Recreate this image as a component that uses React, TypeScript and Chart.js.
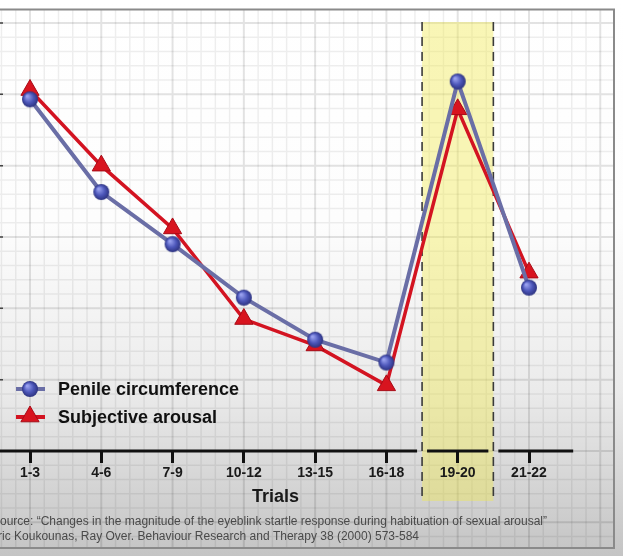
import { useEffect, useRef } from 'react';
import { Chart, registerables } from 'chart.js';

Chart.register(...registerables);

// ---- data ----
const categories = ['1-3', '4-6', '7-9', '10-12', '13-15', '16-18', '19-20', '21-22'];
const penileCircumference = [4.93, 3.63, 2.9, 2.15, 1.56, 1.24, 5.18, 2.29];
const subjectiveArousal = [5.06, 4.0, 3.12, 1.85, 1.48, 0.92, 4.79, 2.5];
const seriesNames = ['Penile circumference', 'Subjective arousal'];
const axisTitle = 'Trials';
const sourceLines = [
  'Source: \u201cChanges in the magnitude of the eyeblink startle response during habituation of sexual arousal\u201d',
  'Eric Koukounas, Ray Over. Behaviour Research and Therapy 38 (2000) 573-584',
];
const highlightIndex = 6;
const yMin = 0;
const yMax = 6;

const BLUE_LINE = '#6a6ea6';
const RED = '#d31321';
const FONT = 'Arial, "Liberation Sans", sans-serif';

let sphereCache: HTMLCanvasElement | null = null;
function getSphere(): HTMLCanvasElement {
  if (sphereCache) return sphereCache;
  const r = 8;
  const c = document.createElement('canvas');
  const s = Math.ceil(r * 2 + 2);
  c.width = s;
  c.height = s;
  const g = c.getContext('2d')!;
  const cx = s / 2;
  const grad = g.createRadialGradient(cx - r * 0.35, cx - r * 0.4, r * 0.1, cx, cx, r);
  grad.addColorStop(0, '#98a0ee');
  grad.addColorStop(0.55, '#4d57ba');
  grad.addColorStop(1, '#2d3380');
  g.fillStyle = grad;
  g.beginPath();
  g.arc(cx, cx, r, 0, Math.PI * 2);
  g.fill();
  sphereCache = c;
  return c;
}

function drawTriangle(ctx: CanvasRenderingContext2D, x: number, y: number, r: number) {
  ctx.beginPath();
  let a = 0;
  ctx.moveTo(x + Math.sin(a) * r, y - Math.cos(a) * r);
  a += (Math.PI * 2) / 3;
  ctx.lineTo(x + Math.sin(a) * r, y - Math.cos(a) * r);
  a += (Math.PI * 2) / 3;
  ctx.lineTo(x + Math.sin(a) * r, y - Math.cos(a) * r);
  ctx.closePath();
  ctx.fillStyle = '#d8141f';
  ctx.fill();
  ctx.strokeStyle = '#a80b16';
  ctx.lineWidth = 1;
  ctx.stroke();
}

const frame = { l: -10, t: 9.5, r: 614, b: 548 };

const decorPlugin = {
  id: 'decor',
  beforeDraw(chart: any) {
    const { ctx, width, height, chartArea, scales } = chart;
    const xs = scales.x;
    const ys = scales.y;
    ctx.save();
    const bg = ctx.createLinearGradient(0, 0, 0, height);
    bg.addColorStop(0, '#ffffff');
    bg.addColorStop(0.4, '#fdfdfd');
    bg.addColorStop(0.7, '#ebebeb');
    bg.addColorStop(1, '#c4c4c4');
    ctx.fillStyle = bg;
    ctx.fillRect(0, 0, width, height);

    const x0 = xs.getPixelForValue(0);
    const dx = xs.getPixelForValue(1) - x0;
    const y0 = ys.getPixelForValue(0);
    const dy = ys.getPixelForValue(0) - ys.getPixelForValue(1);
    ctx.beginPath();
    ctx.rect(frame.l, frame.t, frame.r - frame.l, frame.b - frame.t);
    ctx.clip();
    const drawGrid = (major: boolean) => {
      ctx.strokeStyle = major ? 'rgba(0,0,0,0.11)' : 'rgba(0,0,0,0.065)';
      ctx.lineWidth = major ? 2 : 1.5;
      ctx.beginPath();
      const kx0 = Math.ceil((frame.l - x0) / (dx / 5));
      const kx1 = Math.floor((frame.r - x0) / (dx / 5));
      for (let k = kx0; k <= kx1; k++) {
        const isMajor = ((k % 5) + 5) % 5 === 0;
        if (isMajor !== major) continue;
        const px = x0 + (k * dx) / 5;
        ctx.moveTo(px, frame.t);
        ctx.lineTo(px, frame.b);
      }
      const ky0 = Math.ceil((y0 - frame.b) / (dy / 5));
      const ky1 = Math.floor((y0 - frame.t) / (dy / 5));
      for (let k = ky0; k <= ky1; k++) {
        const isMajor = ((k % 5) + 5) % 5 === 0;
        if (isMajor !== major) continue;
        const py = y0 - (k * dy) / 5;
        ctx.moveTo(frame.l, py);
        ctx.lineTo(frame.r, py);
      }
      ctx.stroke();
    };
    drawGrid(false);
    drawGrid(true);

    const bl = xs.getPixelForValue(highlightIndex - 0.5);
    const br = xs.getPixelForValue(highlightIndex + 0.5);
    const bt = chartArea.top - 1;
    const bb = chartArea.bottom + 50;
    ctx.fillStyle = 'rgba(240,234,80,0.42)';
    ctx.fillRect(bl, bt, br - bl, bb - bt);
    ctx.strokeStyle = '#3a3a3a';
    ctx.lineWidth = 1.6;
    ctx.setLineDash([9, 6]);
    ctx.beginPath();
    ctx.moveTo(bl, bt);
    ctx.lineTo(bl, bb);
    ctx.moveTo(br, bt);
    ctx.lineTo(br, bb);
    ctx.stroke();
    ctx.setLineDash([]);

    ctx.strokeStyle = '#444';
    ctx.lineWidth = 1.5;
    ctx.beginPath();
    for (let v = yMin + 1; v <= yMax; v++) {
      const py = ys.getPixelForValue(v);
      ctx.moveTo(0, py);
      ctx.lineTo(3, py);
    }
    ctx.stroke();

    const ay = chartArea.bottom;
    const segs = [
      [frame.l, xs.getPixelForValue(highlightIndex - 0.57)],
      [xs.getPixelForValue(highlightIndex - 0.43), xs.getPixelForValue(highlightIndex + 0.43)],
      [xs.getPixelForValue(highlightIndex + 0.57), xs.getPixelForValue(categories.length - 1 + 0.62)],
    ];
    ctx.strokeStyle = '#111';
    ctx.lineWidth = 3;
    ctx.beginPath();
    for (const [a, b] of segs) {
      ctx.moveTo(a, ay);
      ctx.lineTo(b, ay);
    }
    ctx.stroke();
    ctx.restore();

    ctx.save();
    ctx.strokeStyle = '#8a8a8a';
    ctx.lineWidth = 2;
    ctx.strokeRect(frame.l, frame.t, frame.r - frame.l, frame.b - frame.t);
    ctx.restore();
  },
  afterDraw(chart: any) {
    const { ctx, chartArea, scales } = chart;
    const xs = scales.x;
    ctx.save();
    ctx.fillStyle = '#1a1a1a';
    ctx.font = `bold 18px ${FONT}`;
    ctx.textAlign = 'center';
    ctx.textBaseline = 'middle';
    const tx = (xs.getPixelForValue(3) + xs.getPixelForValue(4)) / 2 - 4;
    ctx.fillText(axisTitle, tx, chartArea.bottom + 46);

    ctx.fillStyle = '#4a4a4a';
    ctx.font = `12px ${FONT}`;
    ctx.textAlign = 'right';
    ctx.fillText(sourceLines[0], 547, chartArea.bottom + 71);
    ctx.fillText(sourceLines[1], 419, chartArea.bottom + 86);

    const lx = 30;
    const l1 = 389;
    const l2 = 417;
    ctx.lineWidth = 4;
    ctx.strokeStyle = BLUE_LINE;
    ctx.beginPath();
    ctx.moveTo(16, l1);
    ctx.lineTo(45, l1);
    ctx.stroke();
    const sph = getSphere();
    ctx.drawImage(sph, lx - sph.width / 2, l1 - sph.height / 2);
    ctx.strokeStyle = RED;
    ctx.beginPath();
    ctx.moveTo(16, l2);
    ctx.lineTo(45, l2);
    ctx.stroke();
    drawTriangle(ctx, lx, l2 - 0.5, 10.5);

    ctx.fillStyle = '#111';
    ctx.font = `bold 18px ${FONT}`;
    ctx.textAlign = 'left';
    ctx.textBaseline = 'middle';
    ctx.fillText(seriesNames[0], 58, l1 + 1);
    ctx.fillText(seriesNames[1], 58, l2 + 1);
    ctx.restore();
  },
};

export default function App() {
  const ref = useRef<HTMLCanvasElement>(null);
  useEffect(() => {
    const canvas = ref.current;
    if (!canvas) return;
    const sphere = getSphere();
    const chart: any = new Chart(canvas, {
      type: 'line',
      data: {
        labels: categories,
        datasets: [
          {
            label: seriesNames[0],
            data: penileCircumference,
            borderColor: BLUE_LINE,
            borderWidth: 4,
            pointStyle: sphere as any,
            pointRadius: 8,
            tension: 0,
            clip: false as any,
          },
          {
            label: seriesNames[1],
            data: subjectiveArousal,
            borderColor: RED,
            borderWidth: 3.5,
            pointStyle: 'triangle',
            pointRadius: 10.5,
            pointBackgroundColor: '#d8141f',
            pointBorderColor: '#a80b16',
            pointBorderWidth: 1,
            tension: 0,
            clip: false as any,
          },
        ],
      },
      options: {
        responsive: false,
        animation: false,
        devicePixelRatio: 1,
        layout: { padding: { left: 30, right: 94, top: 23, bottom: 0 } },
        plugins: { legend: { display: false }, tooltip: { enabled: false } },
        events: [],
        scales: {
          x: {
            type: 'category',
            offset: false,
            border: { display: false },
            grid: {
              display: true,
              drawOnChartArea: false,
              drawTicks: true,
              tickLength: 12,
              tickWidth: 3,
              tickColor: '#111',
              color: 'rgba(0,0,0,0)',
            },
            ticks: {
              font: { family: FONT, size: 14, weight: 'bold' },
              color: '#1a1a1a',
              padding: 2,
              maxRotation: 0,
              autoSkip: false,
            },
            afterFit: (scale: any) => {
              scale.height = 105;
            },
          },
          y: {
            display: false,
            min: yMin,
            max: yMax,
          },
        },
      },
      plugins: [decorPlugin],
    } as any);
    return () => chart.destroy();
  }, []);
  return (
    <div style={{ position: 'fixed', left: 0, top: 0, width: 623, height: 556 }}>
      <canvas ref={ref} width={623} height={556} style={{ display: 'block' }} />
    </div>
  );
}
